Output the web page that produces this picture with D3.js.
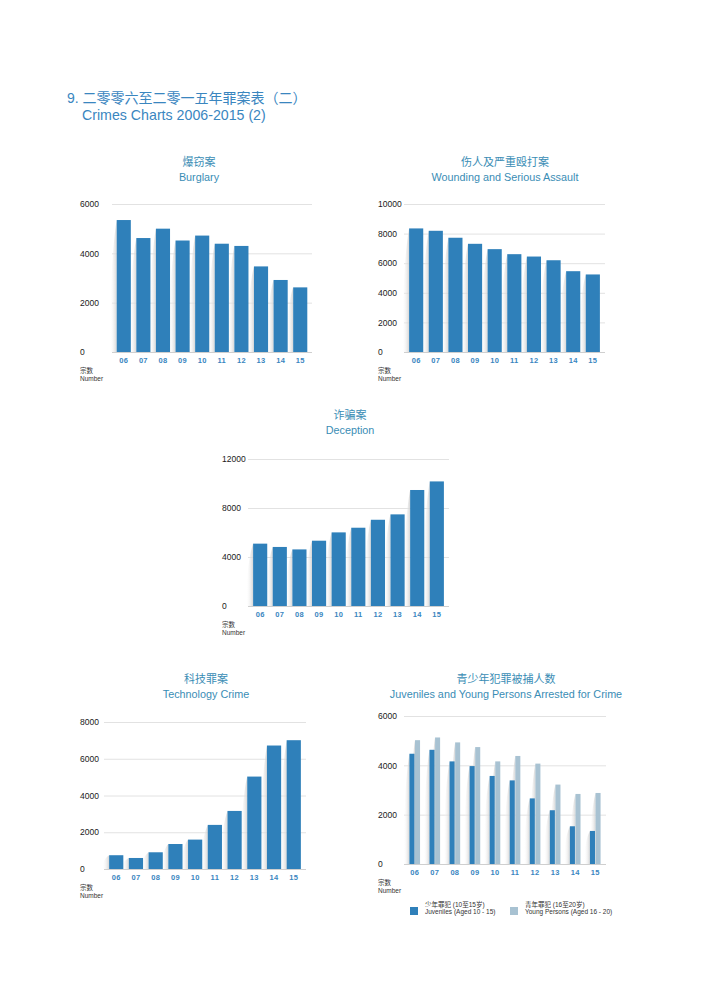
<!DOCTYPE html>
<html><head><meta charset="utf-8">
<script src="https://cdn.jsdelivr.net/npm/d3@7"></script>
<style>
body{margin:0;background:#fff;}
svg{display:block;font-family:"Liberation Sans","Noto Sans CJK SC",sans-serif;}
</style></head>
<body><svg id="c" width="708" height="1001"></svg>
<script>
const years = ["06","07","08","09","10","11","12","13","14","15"];
const burglary = [5350,4620,5000,4520,4720,4390,4300,3470,2920,2620];
const wounding = [8350,8190,7720,7310,6950,6610,6450,6200,5460,5240];
const deception = [5090,4820,4620,5330,6010,6390,7040,7480,9470,10170];
const technology = [750,600,910,1360,1600,2400,3160,5030,6720,7010];
const juveniles = [4470,4630,4160,3970,3570,3390,2660,2180,1530,1340];
const youngPersons = [5020,5130,4930,4740,4160,4380,4070,3220,2840,2880];
const burglaryTicks = [0,2000,4000,6000];
const woundingTicks = [0,2000,4000,6000,8000,10000];
const deceptionTicks = [0,4000,8000,12000];
const technologyTicks = [0,2000,4000,6000,8000];
const juvenileTicks = [0,2000,4000,6000];

const BLUE = "#2f80ba", LIGHT = "#a8c2d2", TITLE = "#3a86bf", CTITLE = "#3a8db5";
const svg = d3.select("#c");
const defs = svg.append("defs");
const g = defs.append("linearGradient").attr("id","shd").attr("x1","0").attr("x2","1").attr("y1","0").attr("y2","0");
g.append("stop").attr("offset","0").attr("stop-color","#fff").attr("stop-opacity",0);
g.append("stop").attr("offset","1").attr("stop-color","#cfcfcf").attr("stop-opacity",0.85);

svg.append("text").attr("x",67).attr("y",103).attr("fill",TITLE).attr("font-size",14)
  .text("9. 二零零六至二零一五年罪案表（二）");
svg.append("text").attr("x",82).attr("y",120).attr("fill",TITLE).attr("font-size",14.2)
  .text("Crimes Charts 2006-2015 (2)");

function chart(o){
  const root = svg.append("g");
  const x = d3.scaleBand().domain(years).range([o.x0,o.x1]).paddingInner(o.pin).paddingOuter(o.pout);
  const ticks = o.ticks;
  const y = d3.scaleLinear().domain([0,ticks[ticks.length-1]]).range([o.yb,o.yt]);
  const cx = o.tcx;
  root.append("text").attr("x",cx).attr("y",o.ty).attr("text-anchor","middle").attr("fill",CTITLE).attr("font-size",11).text(o.zh);
  root.append("text").attr("x",cx).attr("y",o.ty+15).attr("text-anchor","middle").attr("fill",CTITLE).attr("font-size",10.8).text(o.en);
  const yAxis = d3.axisLeft(y).tickValues(ticks).tickSize(-(o.x1-o.x0)).tickFormat(d3.format("d"));
  const ga = root.append("g").attr("transform",`translate(${o.x0},0)`).call(yAxis);
  ga.select(".domain").remove();
  ga.selectAll(".tick line").attr("stroke",d=>d===0?"#cfcfcf":"#e2e2e2");
  ga.selectAll(".tick text").attr("x",o.lx-o.x0).attr("text-anchor","start").attr("font-size",8.5).attr("fill","#1a1a1a").attr("dy","0.32em");
  const series = o.series;
  const n = series.length;
  const bw = x.bandwidth();
  const sub = d3.scaleBand().domain(d3.range(n)).range([0,bw]).paddingInner(n>1?0.1:0);
  series.forEach((s,si)=>{
    root.append("g").selectAll("path").data(s.values).join("path")
      .attr("d",(d,i)=>{
        const bx = x(years[i])+sub(si), top=y(d), h=o.yb-top;
        const w = n>1 ? 6 : 7;
        return `M${bx},${top} C${bx-w*0.4},${top+h*0.12} ${bx-w},${top+h*0.45} ${bx-w},${o.yb} L${bx},${o.yb}Z`;
      }).attr("fill","url(#shd)");
  });
  series.forEach((s,si)=>{
    root.append("g").selectAll("rect").data(s.values).join("rect")
      .attr("x",(d,i)=>x(years[i])+sub(si)).attr("width",sub.bandwidth())
      .attr("y",d=>y(d)).attr("height",d=>o.yb-y(d)).attr("fill",s.color);
  });
  const xAxis = d3.axisBottom(x).tickSize(0).tickPadding(6);
  const gx = root.append("g").attr("transform",`translate(0,${o.yb})`).call(xAxis);
  gx.select(".domain").remove();
  gx.selectAll(".tick text").attr("font-size",7.5).attr("fill",TITLE).attr("font-weight","bold").attr("letter-spacing","0.3");
  root.append("text").attr("x",o.lx).attr("y",o.yb+21).attr("font-size",6.5).attr("fill","#333").text("宗数");
  root.append("text").attr("x",o.lx).attr("y",o.yb+29).attr("font-size",6.5).attr("fill","#333").text("Number");
  return root;
}

chart({x0:112,x1:312,yt:204,yb:352,lx:80,pin:0.28,pout:0.24,ticks:burglaryTicks,tcx:199,ty:166,zh:"爆窃案",en:"Burglary",
  series:[{values:burglary,color:BLUE}]});
chart({x0:404,x1:605,yt:204,yb:352,lx:378,pin:0.28,pout:0.26,ticks:woundingTicks,tcx:505,ty:166,zh:"伤人及严重殴打案",en:"Wounding and Serious Assault",
  series:[{values:wounding,color:BLUE}]});
chart({x0:248,x1:449,yt:459,yb:606,lx:222,pin:0.28,pout:0.26,ticks:deceptionTicks,tcx:350,ty:419,zh:"诈骗案",en:"Deception",
  series:[{values:deception,color:BLUE}]});
chart({x0:104,x1:306,yt:722,yb:869,lx:80,pin:0.28,pout:0.26,ticks:technologyTicks,tcx:206,ty:683,zh:"科技罪案",en:"Technology Crime",
  series:[{values:technology,color:BLUE}]});
chart({x0:404,x1:606,yt:716,yb:864,lx:378,pin:0.47,pout:0.27,ticks:juvenileTicks,tcx:506,ty:683,zh:"青少年犯罪被捕人数",en:"Juveniles and Young Persons Arrested for Crime",
  series:[{values:juveniles,color:BLUE},{values:youngPersons,color:LIGHT}]});

const leg = svg.append("g");
const legItems = [{zh:"少年罪犯 (10至15岁)",en:"Juveniles (Aged 10 - 15)",color:BLUE,x:410},
                  {zh:"青年罪犯 (16至20岁)",en:"Young Persons (Aged 16 - 20)",color:LIGHT,x:510}];
legItems.forEach(d=>{
  leg.append("rect").attr("x",d.x).attr("y",907).attr("width",8).attr("height",8).attr("fill",d.color);
  leg.append("text").attr("x",d.x+15).attr("y",907).attr("font-size",6.5).attr("fill","#333").text(d.zh);
  leg.append("text").attr("x",d.x+15).attr("y",914).attr("font-size",6.5).attr("fill","#333").text(d.en);
});
</script></body></html>
